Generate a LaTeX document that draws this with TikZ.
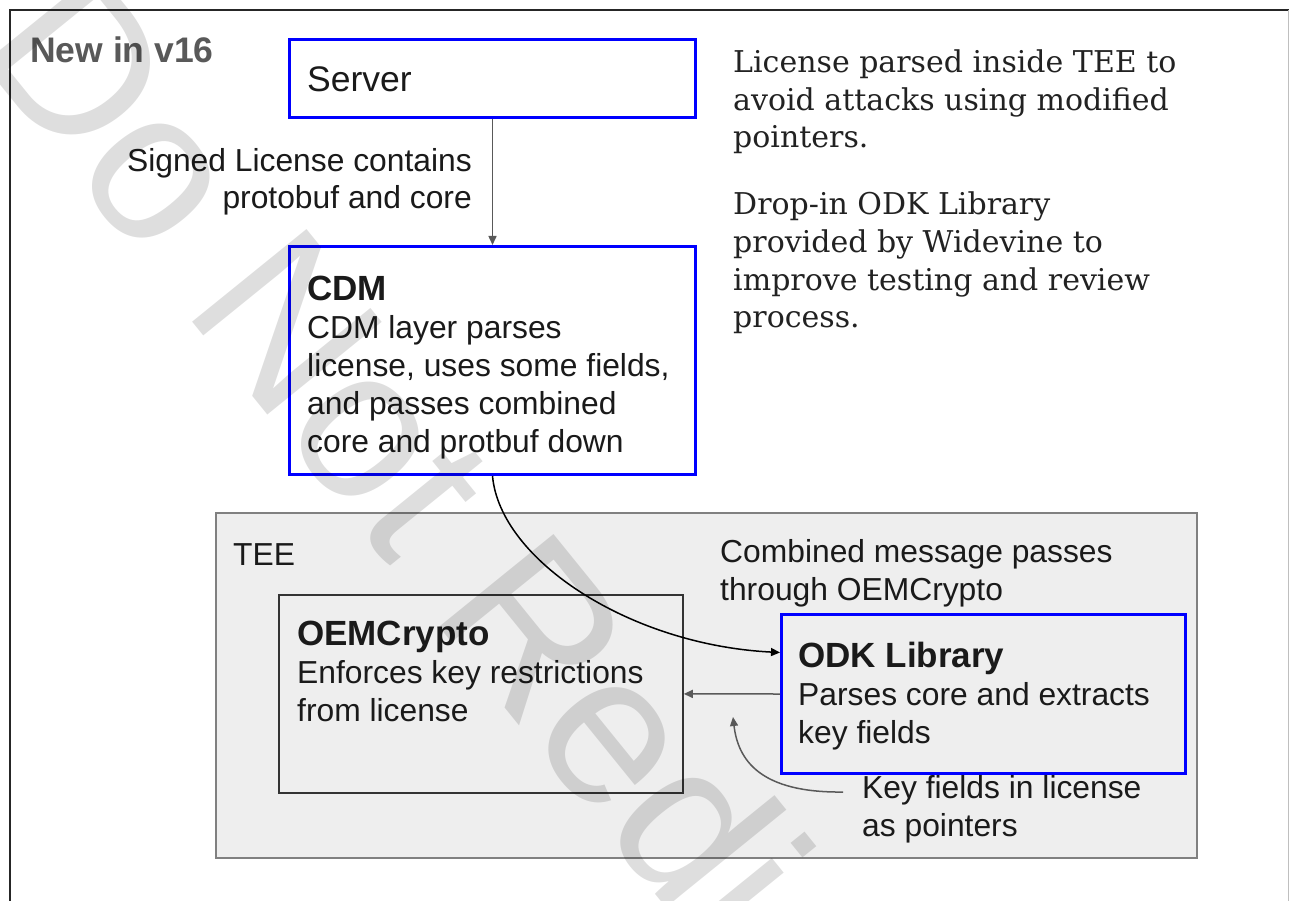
\documentclass[tikz,border=0pt]{standalone}
\usepackage{fontspec}
\setmainfont{Liberation Sans}
\newfontfamily\serifR{DejaVu Serif}
\usetikzlibrary{arrows.meta}
\definecolor{blueB}{HTML}{0000FF}
\definecolor{greyT}{HTML}{595959}
\definecolor{teeFill}{HTML}{EEEEEE}
\definecolor{teeLine}{HTML}{808080}
\definecolor{inkC}{HTML}{1A1A1A}
\definecolor{serifC}{HTML}{222222}
\newcommand{\blkL}[1]{\begin{tabular}[t]{@{}l@{}}#1\end{tabular}}
\newcommand{\blkR}[1]{\begin{tabular}[t]{@{}r@{}}#1\end{tabular}}
\newcommand{\ttlB}[1]{{\fontsize{35}{38}\selectfont\bfseries #1}}
\begin{document}
\begin{tikzpicture}[x=1pt,y=-1pt,
  bluebox/.style={draw=blueB,line width=3pt,inner sep=0pt,anchor=north west},
  plainbox/.style={draw=black!80,line width=1.8pt,inner sep=0pt,anchor=north west},
  teebox/.style={draw=teeLine,fill=teeFill,line width=2pt,inner sep=0pt,anchor=north west},
  body/.style={inner sep=0pt,anchor=base west,text=inkC,font=\fontsize{31.8}{38}\selectfont},
  bodyR/.style={inner sep=0pt,anchor=base east,text=inkC,font=\fontsize{31.8}{37}\selectfont},
  serifT/.style={inner sep=0pt,anchor=base west,text=serifC,font=\serifR\fontsize{30}{37.5}\selectfont},
  tip/.style={-{Triangle[length=9pt,width=8pt]}},
  greyarrow/.style={tip,draw=greyT,line width=1.5pt},
  blackarrow/.style={tip,draw=black,line width=1.5pt},
]
\useasboundingbox (0,0) rectangle (1289,901);
\clip (0,0) rectangle (1289,901);
\fill[white] (0,0) rectangle (1289,901);
% outer frame
\draw[black!85,line width=2pt] (10,901) -- (10,10) -- (1289,10);
\draw[black!25,line width=1pt] (1288,10) -- (1288,901);

% TEE container
\node[teebox,minimum width=981pt,minimum height=345pt] (tee) at (215,512) {};

% boxes
\node[bluebox,minimum width=406pt,minimum height=78pt] (server) at (288,38) {};
\node[bluebox,minimum width=406pt,minimum height=228pt] (cdm) at (288,245) {};
\node[plainbox,minimum width=404pt,minimum height=198pt] (oem) at (278,594) {};
\node[bluebox,minimum width=404pt,minimum height=159pt] (odk) at (780,613) {};

% texts
\node[inner sep=0pt,anchor=base west,text=greyT,font=\fontsize{35.5}{38}\selectfont\bfseries] (newv) at (30,63) {New in v16};
\node[inner sep=0pt,anchor=base west,text=inkC,font=\fontsize{35.5}{38}\selectfont] (serverT) at (307,92) {Server};
\node[bodyR] (signedT) at (472,172) {\blkR{Signed License contains\\protobuf and core}};
\node[body] (cdmT) at (307,300) {\blkL{\ttlB{CDM}\\CDM layer parses\\license, uses some fields,\\and passes combined\\core and protbuf down}};
\node[body] (teeT) at (233,565) {TEE};
\node[body] (oemT) at (297,645) {\blkL{\ttlB{OEMCrypto}\\Enforces key restrictions\\from license}};
\node[body] (combT) at (720,562) {\blkL{Combined message passes\\through OEMCrypto}};
\node[body] (odkT) at (798,667) {\blkL{\ttlB{ODK Library}\\Parses core and extracts\\key fields}};
\node[body] (keyT) at (862,798) {\blkL{Key fields in license\\as pointers}};
\node[serifT] (note1) at (733,73) {\blkL{License parsed inside TEE to\\avoid attacks using modified\\pointers.}};
\node[serifT] (note2) at (733,215) {\blkL{Drop-in ODK Library\\provided by Widevine to\\improve testing and review\\process.}};

% connectors
\draw[greyarrow] (server.south) -- (cdm.north);
\draw[blackarrow] (cdm.south) .. controls (500,560) and (630,645) .. ([yshift=41.5pt]odk.west);
\draw[greyarrow] (odk.west) -- (oem.east);
\coordinate (kstart) at (843,792);
\coordinate (kend) at (733,717);
\draw[greyarrow] (kstart) .. controls (760,793) and (738,760) .. (kend);

% watermark
\node[rotate=-51,anchor=base west,inner sep=0pt,text=black,text opacity=0.13,font=\fontsize{214}{214}\selectfont] (wmark) at (-28,50) {Do Not Redistribute};
\end{tikzpicture}
\end{document}
